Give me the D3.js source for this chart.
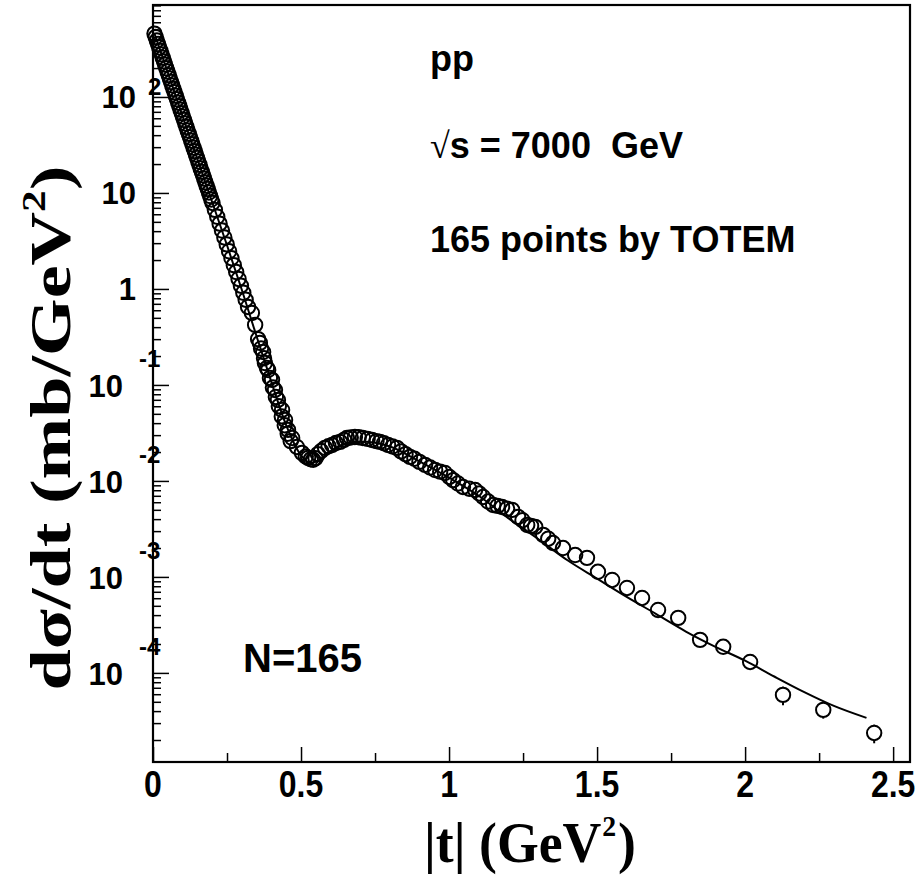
<!DOCTYPE html>
<html>
<head>
<meta charset="utf-8">
<script src="https://cdn.jsdelivr.net/npm/d3@7"></script>
<style>
body { margin: 0; background: #fff; }
svg { display: block; }
</style>
</head>
<body>
<svg id="chart" width="916" height="875"></svg>
<script>
// TOTEM points, low |t| part (dense band)
var tLow = [0.005, 0.009, 0.013, 0.017, 0.021, 0.025, 0.029, 0.033, 0.037, 0.041,
    0.045, 0.049, 0.053, 0.057, 0.061, 0.065, 0.069, 0.073, 0.077, 0.081,
    0.085, 0.089, 0.093, 0.097, 0.101, 0.105, 0.109, 0.113, 0.117, 0.121,
    0.125, 0.129, 0.133, 0.137, 0.141, 0.145, 0.149, 0.153, 0.157, 0.161,
    0.165, 0.169, 0.173, 0.177, 0.181, 0.185, 0.189, 0.193, 0.197, 0.201,
    0.209, 0.217, 0.225, 0.233, 0.241, 0.249, 0.257, 0.265, 0.273, 0.281,
    0.289, 0.297, 0.305, 0.313];
var sigLow = [457, 421, 387, 356, 328, 302, 278, 256, 235, 217,
    199, 184, 169, 156, 143, 132, 121, 112, 103, 94.6,
    87.1, 80.2, 73.8, 67.9, 62.5, 57.5, 52.9, 48.7, 44.8, 41.3,
    38.0, 35.0, 32.2, 29.6, 27.3, 25.1, 23.1, 21.3, 19.6, 18.0,
    16.6, 15.3, 14.1, 12.9, 11.9, 11.0, 10.1, 9.28, 8.54, 7.87,
    6.67, 5.65, 4.79, 4.06, 3.44, 2.91, 2.47, 2.09, 1.77, 1.50,
    1.27, 1.08, 0.913, 0.773];

// points around the dip, second column
var tDip = [0.321, 0.334, 0.345, 0.355, 0.365, 0.375, 0.385, 0.395, 0.405, 0.415,
    0.425, 0.435, 0.445, 0.455, 0.465];
var sigDip = [0.649, 0.562, 0.422, 0.300, 0.240, 0.190, 0.150, 0.118, 0.094, 0.075,
    0.060, 0.047, 0.038, 0.031, 0.026];

// points from 0.36 up to 2.5
var tHigh = [0.361, 0.372, 0.378, 0.389, 0.402, 0.412, 0.422, 0.436, 0.446, 0.456,
    0.470, 0.486, 0.503, 0.516, 0.524, 0.533, 0.541, 0.549, 0.557, 0.568,
    0.581, 0.593, 0.605, 0.618, 0.632, 0.645, 0.655, 0.668, 0.682, 0.695,
    0.709, 0.725, 0.740, 0.755, 0.767, 0.780, 0.794, 0.809, 0.824, 0.838,
    0.853, 0.868, 0.883, 0.900, 0.919, 0.936, 0.953, 0.970, 0.986, 1.001,
    1.014, 1.030, 1.047, 1.068, 1.088, 1.102, 1.115, 1.132, 1.149, 1.164,
    1.179, 1.196, 1.213, 1.233, 1.248, 1.264, 1.277, 1.291, 1.318, 1.335,
    1.351, 1.385, 1.426, 1.466, 1.503, 1.551, 1.601, 1.652, 1.706, 1.774,
    1.848, 1.926, 2.017, 2.128, 2.264, 2.436];
var sigHigh = [0.274, 0.220, 0.169, 0.143, 0.113, 0.0887, 0.0698, 0.0549, 0.0432, 0.0340,
    0.0280, 0.0226, 0.0196, 0.0180, 0.0174, 0.0168, 0.0166, 0.0172, 0.0190, 0.0205,
    0.0221, 0.0230, 0.0237, 0.0248, 0.0255, 0.0268, 0.0280, 0.0283, 0.0287, 0.0285,
    0.0280, 0.0274, 0.0267, 0.0260, 0.0255, 0.0247, 0.0237, 0.0228, 0.0221, 0.0203,
    0.0190, 0.0178, 0.0170, 0.0158, 0.0147, 0.0138, 0.0130, 0.0125, 0.0121, 0.0110,
    0.0102, 0.0094, 0.00866, 0.00830, 0.00805, 0.00740, 0.00681, 0.00610, 0.00562, 0.00550,
    0.00536, 0.00515, 0.00499, 0.00422, 0.00390, 0.00348, 0.00340, 0.00332, 0.00274, 0.00250,
    0.00226, 0.00200, 0.00169, 0.00158, 0.00113, 0.00093, 0.000767, 0.000604, 0.000453, 0.000374,
    0.000221, 0.000187, 0.000130, 0.0000590, 0.0000412, 0.0000237];

// visible error bars (relative)
var errT = [2.128, 2.264, 2.436];
var errSig = [0.0000590, 0.0000412, 0.0000237];
var errRel = [0.22, 0.19, 0.22];

// model curve
var fitT = [0.005, 0.05, 0.1, 0.15, 0.2, 0.25, 0.3, 0.35, 0.4, 0.45,
    0.5, 0.53, 0.56, 0.6, 0.65, 0.7, 0.75, 0.8, 0.9, 1.0,
    1.1, 1.2, 1.3, 1.4, 1.5, 1.6, 1.7, 1.8, 1.9, 2.0,
    2.1, 2.2, 2.3, 2.41];
var fitSig = [457, 180, 63, 22.5, 8.0, 2.85, 0.98, 0.32, 0.107, 0.038,
    0.0185, 0.0155, 0.0163, 0.0205, 0.0245, 0.0258, 0.0250, 0.0228, 0.0160, 0.0108,
    0.0070, 0.0041, 0.0025, 0.00149, 0.00096, 0.00062, 0.00041, 0.00027, 0.000187, 0.000134,
    0.0000912, 0.0000631, 0.0000453, 0.000034];

var xTicks = [0, 0.5, 1, 1.5, 2, 2.5];
var xTickLabels = ["0", "0.5", "1", "1.5", "2", "2.5"];
var xMinor = [0.25, 0.75, 1.25, 1.75, 2.25];
var yTicks = [1e-4, 1e-3, 1e-2, 1e-1, 1, 10, 100];
var yTickBase = ["10", "10", "10", "10", "1", "10", "10"];
var yTickExp = ["-4", "-3", "-2", "-1", "", "", "2"];

var sans = "'Liberation Sans', Arial, sans-serif";
var serif = "'Liberation Serif', 'Times New Roman', serif";
var R = 7.2;

var svg = d3.select("#chart");

var x = d3.scaleLinear().domain([0, 2.557]).range([153, 910]);
var y = d3.scaleLog().domain([1.18e-5, 908]).range([762, 5]);

var points = [];
tLow.forEach(function (t, i) { points.push([t, sigLow[i]]); });
tDip.forEach(function (t, i) { points.push([t, sigDip[i]]); });
tHigh.forEach(function (t, i) { points.push([t, sigHigh[i]]); });

// y ticks, pointing into the frame
var yMinor = y.ticks().filter(function (v) { return yTicks.indexOf(v) < 0; });
svg.append("g")
    .attr("transform", "translate(153,0)")
    .call(d3.axisRight(y).tickValues(yMinor).tickSize(8).tickFormat(""))
    .call(function (g) { g.select(".domain").remove(); })
    .selectAll("line").attr("stroke", "#000").attr("stroke-width", 1.5);
svg.append("g")
    .attr("transform", "translate(153,0)")
    .call(d3.axisRight(y).tickValues(yTicks).tickSize(16).tickFormat(""))
    .call(function (g) { g.select(".domain").remove(); })
    .selectAll("line").attr("stroke", "#000").attr("stroke-width", 1.5);

// x ticks
svg.append("g")
    .attr("transform", "translate(0,762)")
    .call(d3.axisTop(x).tickValues(xMinor).tickSize(9).tickFormat(""))
    .call(function (g) { g.select(".domain").remove(); })
    .selectAll("line").attr("stroke", "#000").attr("stroke-width", 1.5);
svg.append("g")
    .attr("transform", "translate(0,762)")
    .call(d3.axisTop(x).tickValues(xTicks).tickSize(15).tickFormat(""))
    .call(function (g) { g.select(".domain").remove(); })
    .selectAll("line").attr("stroke", "#000").attr("stroke-width", 1.5);

// frame
svg.append("rect")
    .attr("x", 153).attr("y", 5)
    .attr("width", 757).attr("height", 757)
    .attr("fill", "none")
    .attr("stroke", "#000")
    .attr("stroke-width", 2.2);

// x tick labels (a bit taller than wide, like the original)
svg.selectAll(".xlab")
    .data(xTicks)
    .enter().append("text")
    .attr("class", "xlab")
    .attr("transform", function (d) { return "translate(" + x(d) + ",797) scale(1,1.15)"; })
    .attr("text-anchor", "middle")
    .style("font-family", sans)
    .style("font-weight", "bold")
    .style("font-size", "32px")
    .text(function (d, i) { return xTickLabels[i]; });

// y tick labels, ROOT style 10 + exponent
yTicks.forEach(function (v, i) {
    var ty = y(v);
    var neg = yTickExp[i].charAt(0) === "-";
    svg.append("text")
        .attr("x", neg ? 123 : 136)
        .attr("y", ty + (neg ? 12 : 11))
        .attr("text-anchor", "end")
        .style("font-family", sans)
        .style("font-weight", "bold")
        .style("font-size", "31px")
        .text(yTickBase[i]);
    if (yTickExp[i] !== "") {
        svg.append("text")
            .attr("x", neg ? 139 : 148)
            .attr("y", ty + (neg ? -18 : -2))
            .style("font-family", sans)
            .style("font-weight", "bold")
            .style("font-size", "24px")
            .text(yTickExp[i]);
    }
});

// model curve
var line = d3.line()
    .x(function (d, i) { return x(fitT[i]); })
    .y(function (d) { return y(d); })
    .curve(d3.curveMonotoneX);
svg.append("path")
    .datum(fitSig)
    .attr("d", line)
    .attr("fill", "none")
    .attr("stroke", "#000")
    .attr("stroke-width", 2);

// error bars, only the part outside the marker shows
errT.forEach(function (t, i) {
    var cy = y(errSig[i]);
    var lo = y(errSig[i] * (1 - errRel[i]));
    var hi = y(errSig[i] * (1 + errRel[i]));
    if (lo > cy + R) {
        svg.append("line")
            .attr("x1", x(t)).attr("x2", x(t))
            .attr("y1", cy + R).attr("y2", lo)
            .attr("stroke", "#000").attr("stroke-width", 2);
    }
    if (hi < cy - R) {
        svg.append("line")
            .attr("x1", x(t)).attr("x2", x(t))
            .attr("y1", hi).attr("y2", cy - R)
            .attr("stroke", "#000").attr("stroke-width", 2);
    }
});

// data points
svg.selectAll(".pt")
    .data(points)
    .enter().append("circle")
    .attr("class", "pt")
    .attr("cx", function (d) { return x(d[0]); })
    .attr("cy", function (d) { return y(d[1]); })
    .attr("r", R)
    .attr("fill", "none")
    .attr("stroke", "#000")
    .attr("stroke-width", 2);

// text inside the frame
var info = svg.append("g")
    .style("font-family", sans)
    .style("font-weight", "bold")
    .style("font-size", "36px");
info.append("text").attr("x", 430).attr("y", 71).text("pp");
var rs = info.append("text").attr("x", 430).attr("y", 158).attr("xml:space", "preserve");
rs.append("tspan").style("font-family", serif).style("font-weight", "normal").text("\u221A");
rs.append("tspan").text("s = 7000  GeV");
info.append("text").attr("x", 430).attr("y", 252).text("165 points by TOTEM");

svg.append("text")
    .attr("x", 243).attr("y", 672)
    .style("font-family", sans)
    .style("font-weight", "bold")
    .style("font-size", "40px")
    .text("N=165");

// x title: pieces placed side by side, then squeezed a little
var xg = svg.append("g")
    .style("font-family", serif)
    .style("font-weight", "bold");
var xa = xg.append("text").attr("x", 0).attr("y", 0)
    .style("font-size", "58px").text("|t| (GeV");
var wa = xa.node().getComputedTextLength();
var xs = xg.append("text").attr("x", wa + 1).attr("y", -26)
    .style("font-size", "30px").text("2");
var ws = xs.node().getComputedTextLength();
var xb = xg.append("text").attr("x", wa + ws + 3).attr("y", 0)
    .style("font-size", "58px").text(")");
var wx = wa + ws + 3 + xb.node().getComputedTextLength();
var sx = 212 / wx;
xg.attr("transform", "translate(" + (530 - 106) + ",862) scale(" + sx + ",1)");

// y title
var yt = svg.append("text")
    .attr("transform", "translate(70,428) rotate(-90)")
    .attr("text-anchor", "middle")
    .attr("textLength", 525)
    .attr("lengthAdjust", "spacingAndGlyphs")
    .style("font-family", serif)
    .style("font-weight", "bold")
    .style("font-size", "58px");
yt.append("tspan").text("d\u03C3/dt (mb/GeV");
yt.append("tspan").attr("dy", -25).style("font-size", "34px").text("2");
yt.append("tspan").attr("dy", 25).text(")");
</script>
</body>
</html>
